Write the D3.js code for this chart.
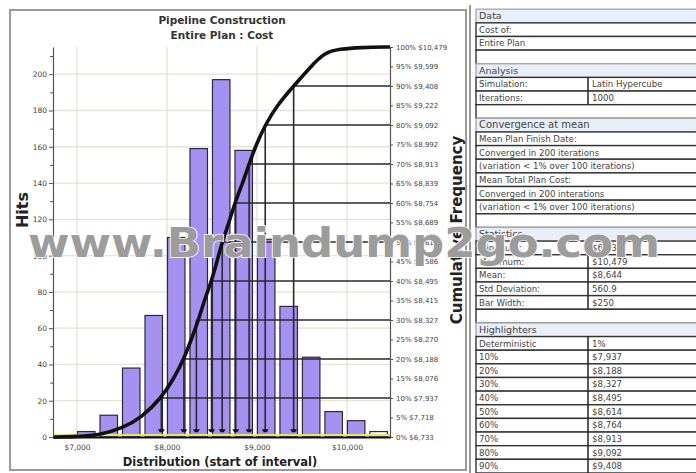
<!DOCTYPE html>
<html>
<head>
<meta charset="utf-8">
<script src="https://cdn.jsdelivr.net/npm/d3@7"></script>
<style>
  body { margin: 0; background: #fff; }
  svg { display: block; font-family: "DejaVu Sans", Verdana, sans-serif; }
</style>
</head>
<body>
<svg id="chart" width="696" height="473"></svg>
<script>
// histogram bins (start of interval, $250 wide) and hit counts
var binStarts = [7000, 7250, 7500, 7750, 8000, 8250, 8500, 8750, 9000, 9250, 9500, 9750, 10000, 10250];
var hits = [3, 12, 38, 67, 110, 159, 197, 158, 109, 72, 44, 14, 9, 3];
var binWidth = 250;

// right axis: cumulative percent and cost at that percent
var pctTicks = [0, 5, 10, 15, 20, 25, 30, 35, 40, 45, 50, 55, 60, 65, 70, 75, 80, 85, 90, 95, 100];
var pctCosts = [6733, 7718, 7937, 8076, 8188, 8270, 8327, 8415, 8495, 8586, 8614, 8689, 8754, 8839, 8913, 8992, 9092, 9222, 9408, 9599, 10479];

// cumulative curve
var cdfCost = [6733, 7000, 7250, 7500, 7718, 7937, 8076, 8188, 8270, 8350, 8415, 8495, 8556, 8614, 8689, 8754, 8839, 8913, 8992, 9092, 9222, 9408, 9599, 9750, 9920, 10150, 10479];
var cdfPct = [0, 0.1, 0.5, 2.2, 5, 10, 15, 20, 25, 30, 35, 40, 45, 50, 55, 60, 65, 70, 75, 80, 85, 90, 95, 98.6, 99.5, 99.9, 100];

// highlighters
var highlightPct = [10, 20, 30, 40, 50, 60, 70, 80, 90];
var highlightCost = [7937, 8188, 8327, 8495, 8614, 8764, 8913, 9092, 9408];

var xTicks = [7000, 8000, 9000, 10000];
var hitTicks = d3.range(0, 211, 10);

// side table
var tableRows = [
  ['head', 'Data'],
  ['text', 'Cost of:'],
  ['text', 'Entire Plan'],
  ['blank'],
  ['head', 'Analysis'],
  ['pair', 'Simulation:', 'Latin Hypercube'],
  ['pair', 'Iterations:', '1000'],
  ['blank'],
  ['head', 'Convergence at mean'],
  ['text', 'Mean Plan Finish Date:'],
  ['text', 'Converged in 200 iterations'],
  ['text', '(variation < 1% over 100 iterations)'],
  ['text', 'Mean Total Plan Cost:'],
  ['text', 'Converged in 200 interations'],
  ['text', '(variation < 1% over 100 iterations)'],
  ['blank'],
  ['head', 'Statistics'],
  ['pair', 'Minimum:', '$6,733'],
  ['pair', 'Maximum:', '$10,479'],
  ['pair', 'Mean:', '$8,644'],
  ['pair', 'Std Deviation:', '560.9'],
  ['pair', 'Bar Width:', '$250'],
  ['blank'],
  ['head', 'Highlighters'],
  ['pair', 'Deterministic', '1%']
];
highlightPct.forEach(function (p, i) {
  tableRows.push(['pair', p + '%', '$' + d3.format(',')(highlightCost[i])]);
});

var svg = d3.select('#chart');
var fmt = d3.format(',');

var x = d3.scaleLinear().domain([6733, 10479]).range([53, 390]);
var yHits = d3.scaleLinear().domain([0, 215]).range([437, 47]);
var yPct = d3.scaleLinear().domain([0, 100]).range([437, 47]);

// chart frame
svg.append('rect')
  .attr('x', 10).attr('y', 10).attr('width', 456).attr('height', 460)
  .attr('fill', '#fff').attr('stroke', '#9a9a9a').attr('stroke-width', 2);

// grid
var grid = svg.append('g');
grid.selectAll('.hgrid')
  .data(hitTicks.filter(function (d) { return d > 0 && d % 20 === 0; }))
  .enter().append('line')
  .attr('x1', 53).attr('x2', 390)
  .attr('y1', yHits).attr('y2', yHits)
  .attr('stroke', '#e6e2d4').attr('stroke-width', 1.3);
grid.selectAll('.vgrid')
  .data(xTicks)
  .enter().append('line')
  .attr('x1', x).attr('x2', x)
  .attr('y1', 47).attr('y2', 437)
  .attr('stroke', '#e6e2d4').attr('stroke-width', 1.3);

// bars
svg.append('g').selectAll('rect')
  .data(binStarts)
  .enter().append('rect')
  .attr('x', function (d) { return x(d) + 0.5; })
  .attr('width', function (d) { return x(d + binWidth) - x(d) - 5; })
  .attr('y', function (d, i) { return yHits(hits[i]); })
  .attr('height', function (d, i) { return yHits(0) - yHits(hits[i]); })
  .attr('fill', function (d, i) { return i === binStarts.length - 1 ? '#fbfbf4' : '#a591f2'; })
  .attr('stroke', '#2a2a3a').attr('stroke-width', 1.2);

// highlighter lines
var hl = svg.append('g');
hl.selectAll('.h')
  .data(highlightPct)
  .enter().append('line')
  .attr('x1', function (d, i) { return x(highlightCost[i]); })
  .attr('x2', 390)
  .attr('y1', yPct).attr('y2', yPct)
  .attr('stroke', '#2a2a2a').attr('stroke-width', 1.6);
hl.selectAll('.v')
  .data(highlightPct)
  .enter().append('line')
  .attr('x1', function (d, i) { return x(highlightCost[i]); })
  .attr('x2', function (d, i) { return x(highlightCost[i]); })
  .attr('y1', yPct).attr('y2', 430)
  .attr('stroke', '#2a2a2a').attr('stroke-width', 1.6);

// yellow baseline
svg.append('line')
  .attr('x1', 53).attr('x2', 390).attr('y1', 435).attr('y2', 435)
  .attr('stroke', '#efe26a').attr('stroke-width', 2);

// markers at highlight costs
svg.append('g').selectAll('path')
  .data(highlightCost)
  .enter().append('path')
  .attr('transform', function (d) { return 'translate(' + x(d) + ',431)'; })
  .attr('d', 'M-3.5,-1.8h7l-2,3h-3z')
  .attr('fill', '#111');

// cumulative curve
var line = d3.line()
  .x(function (d) { return x(d); })
  .y(function (d, i) { return yPct(cdfPct[i]); })
  .curve(d3.curveBasis);
svg.append('path')
  .datum(cdfCost)
  .attr('d', line)
  .attr('fill', 'none').attr('stroke', '#111').attr('stroke-width', 3.6)
  .attr('stroke-linejoin', 'round');

// axes
var leftAxis = svg.append('g')
  .attr('transform', 'translate(53,0)')
  .call(d3.axisLeft(yHits).tickValues(hitTicks)
    .tickFormat(function (d) { return d % 20 === 0 ? d : ''; })
    .tickSize(4).tickPadding(2).tickSizeOuter(0));
leftAxis.selectAll('.tick line')
  .attr('x2', function (d) { return d % 20 === 0 ? -4 : -3; });

var rightAxis = svg.append('g')
  .attr('transform', 'translate(390,0)')
  .call(d3.axisRight(yPct).tickValues(pctTicks)
    .tickFormat(function (d, i) { return d + '% $' + fmt(pctCosts[i]); })
    .tickSize(3).tickPadding(3).tickSizeOuter(0));

var bottomAxis = svg.append('g')
  .attr('transform', 'translate(0,437)')
  .call(d3.axisBottom(x).tickValues(xTicks)
    .tickFormat(function (d) { return '$' + fmt(d); })
    .tickSize(0).tickPadding(8));

[leftAxis, rightAxis, bottomAxis].forEach(function (a) {
  a.selectAll('text').attr('font-size', 7.5).attr('fill', '#444')
    .attr('font-family', '"DejaVu Sans", sans-serif');
  a.selectAll('.tick line').attr('stroke', '#555');
});
rightAxis.selectAll('text').attr('font-size', 7);
leftAxis.select('.domain').attr('stroke', '#555').attr('stroke-width', 1.2);
rightAxis.select('.domain').attr('stroke', '#555').attr('stroke-width', 1.2);
bottomAxis.select('.domain').attr('stroke', '#111').attr('stroke-width', 2);

// titles
var titles = svg.append('g').attr('font-weight', 'bold').attr('fill', '#333')
  .attr('text-anchor', 'middle');
titles.append('text').attr('x', 222).attr('y', 24).attr('font-size', 10.5).text('Pipeline Construction');
titles.append('text').attr('x', 222).attr('y', 39).attr('font-size', 10.5).text('Entire Plan : Cost');
titles.append('text').attr('x', 220).attr('y', 466).attr('font-size', 11.5).attr('fill', '#222')
  .text('Distribution (start of interval)');
titles.append('text').attr('transform', 'translate(28,210) rotate(-90)')
  .attr('font-size', 16).attr('fill', '#222').text('Hits');
titles.append('text').attr('transform', 'translate(462,230) rotate(-90)')
  .attr('font-size', 15).attr('fill', '#222').text('Cumulative Frequency');

// table
var rowY = d3.scaleBand().domain(d3.range(tableRows.length)).range([9.2, 9.2 + 13.64 * tableRows.length]);
var tableX = 476, colX = 588;
svg.append('line').attr('x1', 470).attr('x2', 470).attr('y1', 5).attr('y2', 473)
  .attr('stroke', '#999').attr('stroke-width', 2);
var rows = svg.append('g').selectAll('g')
  .data(tableRows)
  .enter().append('g')
  .attr('transform', function (d, i) { return 'translate(' + tableX + ',' + rowY(i) + ')'; });
rows.append('rect')
  .attr('width', 230).attr('height', rowY.bandwidth())
  .attr('fill', function (d) { return d[0] === 'head' ? '#e8eff9' : '#fff'; })
  .attr('stroke', function (d) { return d[0] === 'head' ? '#aaa' : '#333'; })
  .attr('stroke-width', 1.4);
rows.filter(function (d) { return d[0] === 'pair'; })
  .append('line')
  .attr('x1', colX - tableX).attr('x2', colX - tableX)
  .attr('y1', 0).attr('y2', rowY.bandwidth())
  .attr('stroke', '#222').attr('stroke-width', 1.5);
rows.filter(function (d) { return d[0] !== 'blank'; })
  .append('text')
  .attr('x', 3).attr('y', rowY.bandwidth() / 2 + 3.2)
  .attr('font-size', function (d) { return d[1] === 'Convergence at mean' ? 10 : d[0] === 'head' ? 9.5 : 8.6; })
  .attr('fill', '#444')
  .text(function (d) { return d[1]; });
rows.filter(function (d) { return d[0] === 'pair'; })
  .append('text')
  .attr('x', colX - tableX + 4).attr('y', rowY.bandwidth() / 2 + 3.2)
  .attr('font-size', 8.6).attr('fill', '#444')
  .text(function (d) { return d[2]; });

// watermark
svg.append('text')
  .attr('x', 28).attr('y', 257)
  .attr('font-size', 40).attr('font-weight', 'bold')
  .attr('textLength', 632).attr('lengthAdjust', 'spacingAndGlyphs')
  .attr('fill', '#9c9c9c').attr('stroke', '#fff').attr('stroke-width', 1.5)
  .attr('paint-order', 'stroke')
  .text('www.Braindump2go.com');
</script>
</body>
</html>
